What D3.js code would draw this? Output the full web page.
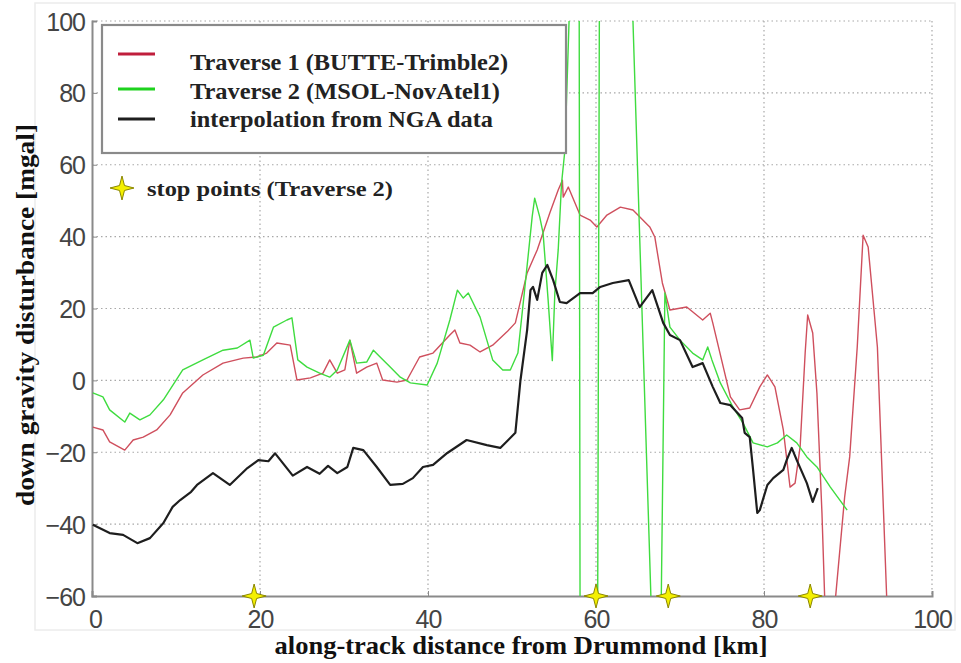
<!DOCTYPE html>
<html lang="en">
<head>
  <meta charset="UTF-8">
  <title>Down gravity disturbance</title>
  <script src="https://d3js.org/d3.v7.min.js"></script>
  <style>
    body { margin: 0; background: #fff; }
    svg { display: block; }
  </style>
</head>
<body>
<div class="main"></div>
<script>

  // ---- data (km, mgal) ----
  var xTicks = [0, 20, 40, 60, 80, 100];
  var yTicks = [-60, -40, -20, 0, 20, 40, 60, 80, 100];

  var legendNames = ["Traverse 1 (BUTTE-Trimble2)", "Traverse 2 (MSOL-NovAtel1)", "interpolation from NGA data"];
  var stopLabel = "stop points (Traverse 2)";
  var stopPoints = [19.3, 60.0, 68.6, 85.5];

  var traverse1 = [
    [0.1,-13],[1.3,-13.8],[2.1,-17.1],[3.9,-19.4],[4.9,-16.6],[6.1,-15.8],[7.7,-13.8],[9.3,-9.6],
    [10.8,-3.5],[13.2,1.5],[15.6,4.8],[18.0,6.2],[19.6,6.5],[20.8,7.6],[22.0,10.4],[23.6,9.8],
    [24.4,0.1],[26.0,0.7],[27.5,2],[28.3,5.7],[29.2,2],[30.1,2.9],[30.7,11.2],[31.5,2],[32.7,3.7],
    [33.9,4.8],[34.6,0.1],[36.3,-0.5],[37.5,0.1],[39.0,6.5],[40.6,7.6],[42.6,12.6],[43.2,14],
    [43.8,10.4],[45.0,9.8],[46.2,7.9],[47.7,9.8],[49.4,13.5],[50.4,16],[51.8,29.9],[53.0,36.3],
    [54.5,46.6],[55.5,53],[56.0,55.7],[56.1,51],[56.7,53.8],[58.1,46],[59.3,44.6],[60.1,42.7],
    [61.3,46],[62.9,48.2],[64.4,47.4],[66.4,42.7],[67.0,39.9],[67.9,27.1],[68.8,19.6],[70.8,20.4],
    [72.7,16.8],[73.6,18.7],[73.9,16],[76.0,-4.6],[77.1,-8.2],[78.3,-7.7],[79.5,-1.8],[80.4,1.5],
    [81.3,-1.8],[82.3,-13.8],[83.1,-29.7],[83.7,-28.6],[84.3,-18.5],[84.9,7.6],[85.2,18.2],
    [85.8,13.2],[86.3,-3.5],[86.9,-36.9],[87.3,-66],[88.3,-66],[89.6,-32.5],[90.2,-21.3],
    [91.1,9.3],[91.8,40.4],[92.4,37.1],[93.5,9.3],[94.6,-60],[95.0,-70]
  ];

  var traverse2 = [
    [0.1,-3.5],[1.3,-4.6],[2.1,-8.2],[3.9,-11.6],[4.5,-9.1],[5.7,-11],[6.9,-9.6],[8.5,-5.4],
    [10.8,2.9],[13.2,5.7],[15.6,8.4],[17.3,9],[18.8,11.2],[19.2,6.2],[20.4,7],[21.6,14.8],
    [23.2,16.8],[23.8,17.4],[24.5,5.7],[25.6,3.7],[27.1,2],[28.3,0.9],[29.2,2.9],[30.7,11.2],
    [31.5,4.8],[32.7,5.1],[33.5,8.4],[34.3,6.5],[35.5,3.7],[36.7,0.9],[37.9,-0.7],[39.9,-1.3],
    [41.1,4.8],[42.6,16.8],[43.5,25.1],[44.2,22.9],[44.8,24.3],[46.2,17.6],[47.7,5.7],[48.9,2.9],
    [49.8,2.9],[50.7,7.6],[51.5,25.1],[52.4,45.5],[52.7,50.7],[53.3,45.5],[53.7,41],[54.3,22.4],
    [54.8,5.5],[55.1,24.3],[55.5,36.3],[55.9,54.9],[56.3,64.1],[57.0,115],[57.6,120],[58.0,102],
    [58.1,-62],[59.2,-90],[60.2,-62],[60.4,102],[62.4,140],[64.4,100],[66.6,-65],[67.4,-80],
    [67.75,-65],[68.2,24.3],[68.8,14.8],[70.0,11.2],[71.5,7.6],[72.7,5.7],[73.3,9.3],[73.8,5.7],
    [74.8,-0.7],[76.3,-7.4],[77.5,-11.9],[78.7,-17.4],[80.4,-18.5],[81.6,-17.4],[82.7,-15.2],
    [83.9,-17.4],[85.1,-21.3],[86.3,-24.1],[87.9,-29.7],[89.9,-36.1]
  ];

  var ngaData = [
    [0.1,-40.2],[2.1,-42.5],[3.7,-43],[5.4,-45.3],[6.9,-43.9],[8.5,-39.7],[9.6,-35.2],[10.5,-33.3],
    [11.8,-31],[12.5,-29.1],[14.4,-25.8],[16.4,-29.1],[18.5,-24.4],[19.8,-22.2],[21.0,-22.5],
    [21.8,-20.3],[23.9,-26.5],[25.6,-24.1],[27.1,-26],[28.1,-23.8],[29.2,-25.8],[30.4,-24.1],
    [31.1,-18.8],[32.3,-19.4],[33.9,-24.1],[35.5,-29.1],[37.0,-28.8],[38.2,-27.2],[39.4,-24.1],
    [40.6,-23.5],[42.3,-20.2],[44.6,-16.6],[47.0,-18],[48.6,-18.8],[50.4,-14.6],[51.0,-0.1],
    [51.8,14],[52.2,25.1],[52.5,26],[53.0,22.4],[53.6,29.9],[54.2,32.1],[54.9,27.9],[55.7,21.8],
    [56.5,21.5],[58.1,24.3],[59.6,24.3],[60.5,26],[62.0,27.1],[63.9,27.9],[65.2,20.4],[66.7,25.1],
    [68.0,16],[68.8,12.6],[70.0,11.2],[71.5,3.7],[72.7,4.8],[73.9,-1.8],[74.8,-6.3],[76.0,-6.9],
    [77.4,-10.5],[77.7,-14.6],[78.3,-15.8],[78.7,-24.9],[79.2,-36.9],[79.5,-36.1],[80.4,-29.1],
    [81.1,-27.2],[82.3,-24.9],[82.7,-22.2],[83.3,-18.8],[83.9,-22.2],[85.1,-28.6],[85.8,-33.8],
    [86.4,-30]
  ];

  var seriesColors = ["#cf4f5d", "#3fdc3f", "#1e1e1e"];
  var legendColors = ["#c01e3c", "#1ed21e", "#1e1e1e"];

  let width = 961;
  let height = 663;

  var xScale = d3.scaleLinear().domain([0, 100]).range([92, 932]);
  var yScale = d3.scaleLinear().domain([-60, 100]).range([596, 21]);

  var svg = d3.select(".main")
          .append("svg")
          .attr("width", width)
          .attr("height", height);

  // faint outer frame of the figure
  svg.append("rect")
          .attr("x", 35).attr("y", 3)
          .attr("width", 920).attr("height", 627)
          .style("fill", "none")
          .style("stroke", "#ececec")
          .style("stroke-width", 1.5);

  // grid (dotted)
  let grid = svg.append("g");
  xTicks.forEach(function (t) {
    if (t == 0) return;
    grid.append("line")
            .attr("x1", xScale(t)).attr("x2", xScale(t))
            .attr("y1", yScale(100)).attr("y2", yScale(-60))
            .style("stroke", "#a8a8a8").style("stroke-width", 1.2)
            .style("stroke-dasharray", "1.5,3");
  });
  yTicks.forEach(function (t) {
    if (t == -60) return;
    grid.append("line")
            .attr("x1", xScale(0)).attr("x2", xScale(100))
            .attr("y1", yScale(t)).attr("y2", yScale(t))
            .style("stroke", "#a8a8a8").style("stroke-width", 1.2)
            .style("stroke-dasharray", "1.5,3");
  });

  // axes (MATLAB style: inward ticks, gray lines)
  let xAxis = d3.axisBottom(xScale).tickValues(xTicks).tickSize(-5).tickPadding(10).tickFormat(d3.format("d"));
  let yAxis = d3.axisLeft(yScale).tickValues(yTicks).tickSize(-5).tickPadding(7).tickFormat(d3.format("d"));

  function drawAxis(axis, translate) {
    let g = svg.append("g").attr("transform", translate).call(axis);
    g.select(".domain").style("stroke", "#8a8a8a").style("stroke-width", 2);
    g.selectAll(".tick line").style("stroke", "#8a8a8a");
    g.selectAll(".tick text")
            .style("font-family", "'Liberation Sans', Arial, sans-serif")
            .style("font-size", "25px")
            .style("letter-spacing", "-1px")
            .style("fill", "#444");
    return g;
  }
  let gx = drawAxis(xAxis, `translate(0, ${yScale(-60)})`);
  gx.selectAll(".tick text").attr("y", 14).attr("dy", "0.71em");
  gx.selectAll(".tick").filter(function (d) { return d == 0; }).select("text").attr("dx", 3);
  let gy = drawAxis(yAxis, `translate(${xScale(0)}, 0)`);
  gy.selectAll(".tick text").attr("dy", "0.36em");
  gy.selectAll(".tick line").filter(function (d) { return d == -60 || d == 100; }).remove();
  gx.selectAll(".tick line").filter(function (d) { return d == 0 || d == 100; }).remove();

  // clip curves to the plot box
  svg.append("clipPath").attr("id", "plotClip")
          .append("rect")
          .attr("x", xScale(0)).attr("y", yScale(100))
          .attr("width", xScale(100) - xScale(0))
          .attr("height", yScale(-60) - yScale(100));

  let line = d3.line()
          .x(function (d) { return xScale(d[0]); })
          .y(function (d) { return yScale(d[1]); });

  let curves = svg.append("g").attr("clip-path", "url(#plotClip)");
  [traverse1, traverse2, ngaData].forEach(function (data, i) {
    curves.append("path")
            .datum(data)
            .attr("d", line)
            .style("fill", "none")
            .style("stroke", seriesColors[i])
            .style("stroke-width", i == 2 ? 2.2 : 1.4)
            .style("stroke-linejoin", "round");
  });

  // four point star
  let star = d3.lineRadial().curve(d3.curveLinearClosed);
  function starPoints(outer, inner) {
    let pts = [];
    for (let k = 0; k < 8; k++) {
      pts.push([k * Math.PI / 4, k % 2 == 0 ? outer : inner]);
    }
    return pts;
  }

  svg.append("g").selectAll("path")
          .data(stopPoints)
          .join("path")
          .attr("d", star(starPoints(12, 3.5)))
          .attr("transform", function (d) { return `translate(${xScale(d)}, ${yScale(-60)})`; })
          .style("fill", "#f4f000")
          .style("stroke", "#8a8600")
          .style("stroke-width", 1);

  // legend box
  let legend = svg.append("g");
  legend.append("rect")
          .attr("x", 102).attr("y", 25)
          .attr("width", 464).attr("height", 128)
          .style("fill", "#fff")
          .style("stroke", "#8a8a8a")
          .style("stroke-width", 2.2);

  let legendY = [54, 89, 119];
  let legendTextY = [70, 99, 127];
  let legendLen = [318, 310, 303];
  legendNames.forEach(function (name, i) {
    legend.append("line")
            .attr("x1", 118).attr("x2", 155)
            .attr("y1", legendY[i]).attr("y2", legendY[i])
            .style("stroke", legendColors[i])
            .style("stroke-width", 3);
    legend.append("text")
            .attr("x", 190).attr("y", legendTextY[i])
            .attr("textLength", legendLen[i])
            .attr("lengthAdjust", "spacingAndGlyphs")
            .style("font-family", "'Liberation Serif', 'Times New Roman', serif")
            .style("font-weight", "bold")
            .style("font-size", "23px")
            .style("fill", "#222")
            .text(name);
  });

  svg.append("path")
          .attr("d", star(starPoints(12, 3.5)))
          .attr("transform", "translate(122, 188)")
          .style("fill", "#f4f000")
          .style("stroke", "#8a8600")
          .style("stroke-width", 1);
  svg.append("text")
          .attr("x", 147).attr("y", 196)
          .attr("textLength", 246)
          .attr("lengthAdjust", "spacingAndGlyphs")
          .style("font-family", "'Liberation Serif', 'Times New Roman', serif")
          .style("font-weight", "bold")
          .style("font-size", "22px")
          .style("fill", "#222")
          .text(stopLabel);

  // axis titles
  svg.append("text")
          .attr("x", 521).attr("y", 654)
          .attr("text-anchor", "middle")
          .attr("textLength", 493)
          .attr("lengthAdjust", "spacingAndGlyphs")
          .style("font-family", "'Liberation Serif', 'Times New Roman', serif")
          .style("font-weight", "bold")
          .style("font-size", "25px")
          .style("fill", "#111")
          .text("along-track distance from Drummond [km]");

  svg.append("text")
          .attr("transform", "translate(34, 315) rotate(-90)")
          .attr("text-anchor", "middle")
          .attr("textLength", 382)
          .attr("lengthAdjust", "spacingAndGlyphs")
          .style("font-family", "'Liberation Serif', 'Times New Roman', serif")
          .style("font-weight", "bold")
          .style("font-size", "25px")
          .style("fill", "#111")
          .text("down gravity disturbance [mgal]");

</script>
</body>
</html>
